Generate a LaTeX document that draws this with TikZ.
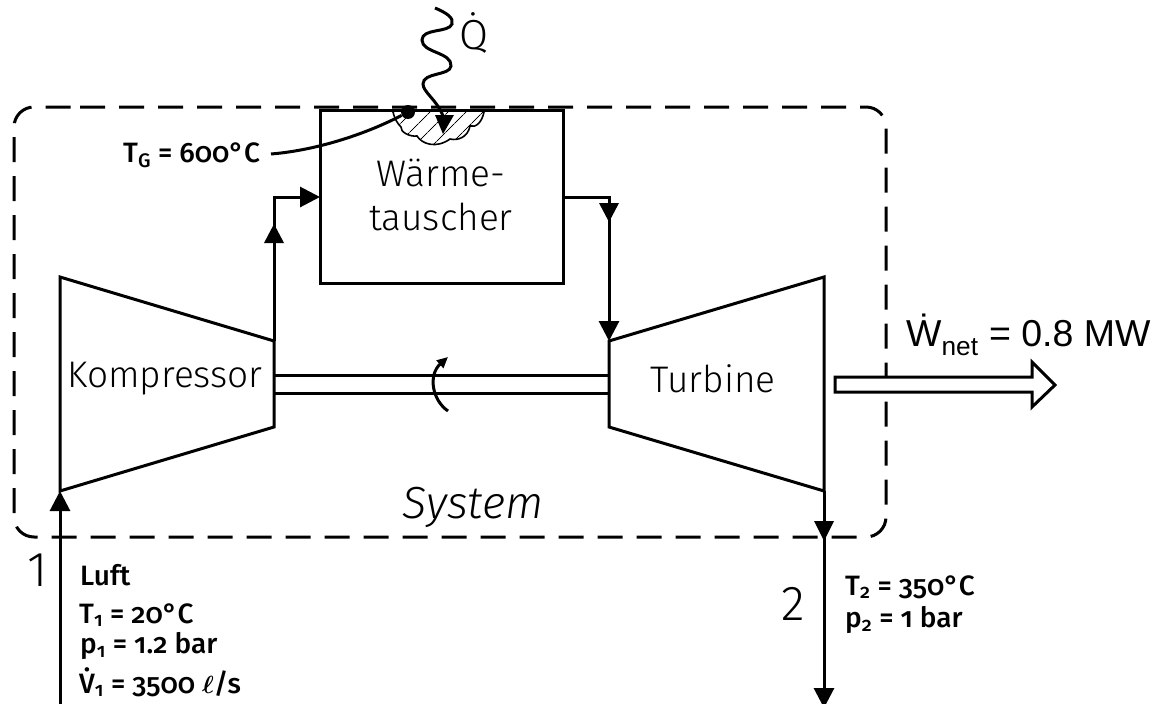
\documentclass[tikz,border=0pt]{standalone}
\usepackage{fontspec}
\usepackage{amsmath,amssymb}
\usetikzlibrary{arrows.meta,calc,patterns.meta,positioning}
\setmainfont{Fira Sans Light}
\newfontfamily\datafont[Numbers=OldStyle]{Fira Sans Medium}
\newfontfamily\arialfont{Liberation Sans}
\tikzset{
  line/.style={line width=3pt,line cap=butt},
  flow/.style={line,-{Triangle[width=20pt,length=20pt]}},
  bigtext/.style={font=\fontsize{37}{44}\selectfont,inner sep=0pt},
  numtext/.style={font=\fontsize{49}{50}\selectfont,inner sep=0pt},
  datatext/.style={font=\datafont\fontsize{28}{30}\selectfont,anchor=west,inner sep=0pt},
}
\begin{document}
\begin{tikzpicture}[x=1pt,y=-1pt]
    \useasboundingbox (0,0) rectangle (1160,704);
    % system boundary
    \draw[line,dash pattern=on 25pt off 14pt,rounded corners=20pt] (60,107) -- (886,107) -- (886,537) -- (14,537) -- (14,107) -- cycle;
    % machines
    \coordinate (c1) at (60,277);
    \coordinate (c2) at (274,341);
    \coordinate (c3) at (274,427);
    \coordinate (c4) at (60,491);
    \coordinate (t1) at (609,341);
    \coordinate (t2) at (824,277);
    \coordinate (t3) at (824,491);
    \coordinate (t4) at (609,427);
    \draw[line,fill=white] (c1) -- (c2) -- (c3) -- (c4) -- cycle;
    \draw[line,fill=white] (t1) -- (t2) -- (t3) -- (t4) -- cycle;
    \draw[line] (c2 |- 0,375) -- (t1 |- 0,375);
    \draw[line] (c2 |- 0,393) -- (t1 |- 0,393);
    \draw[line] (320,110) rectangle (563,283);
    \coordinate (hxin) at (320,197);
    \coordinate (hxout) at (563,197);
    \coordinate (in) at (60,704);
    \coordinate (out) at (824,708);
    % stream lines
    \draw[flow] (c2) -- (274,197) -- (hxin);
    \draw[flow] (hxout) -- (609,197) -- (t1);
    \draw[flow] (in) -- (c4);
    \draw[flow] (t3) -- (out);
    \fill (264,243) -- (284,243) -- (274,224) -- cycle;
    \fill (599,203) -- (619,203) -- (609,222) -- cycle;
    \fill (814,521) -- (834,521) -- (824,541) -- cycle;
    % heat input
    \draw[line width=1.6pt,pattern={Lines[angle=45,distance=13pt,line width=1pt]}] (393,112) .. controls (395,120) and (398,124) .. (401,127) .. controls (400,132) and (410,137) .. (417,136) .. controls (422,144) and (436,149) .. (450,139) .. controls (458,141) and (468,137) .. (470,126) .. controls (476,128) and (482,122) .. (484,112);
    \draw[line] (435,8) .. controls (447,13) and (454,18) .. (452,24) .. controls (449,33) and (422,28) .. (422,40) .. controls (422,53) and (452,52) .. (451,66) .. controls (450,76) and (423,72) .. (423,84) .. controls (423,92) and (437,100) .. (443,116);
    \fill (435,115) -- (454,115) -- (443,134) -- cycle;
    \node[circle,fill=black,inner sep=0pt,minimum size=14pt] (sensor) at (408,112) {};
    \coordinate (leaderend) at (271,154);
    \draw[line] (leaderend) .. controls (320,150) and (370,132) .. (sensor);
    % output
    \draw[line,fill=white] (835,377) -- (1032,377) -- (1032,362) -- (1055,385) -- (1032,407) -- (1032,392) -- (835,392) -- cycle;
    % rotation
    \draw[line,-{Triangle[width=10pt,length=11pt]}] (448,411) .. controls (432,400) and (428,375) .. (448,357);
    % texts
    \node[bigtext,align=center] (hx) at (441,195) {Wärme-\\tauscher};
    \node[bigtext] (komp) at (165,379) {Kompressor};
    \node[bigtext] (turb) at (713,379) {Turbine};
    \node[inner sep=0pt,font=\itshape\fontsize{45}{46}\selectfont] (sys) at (473,507) {System};
    \node[bigtext,font=\fontsize{42}{44}\selectfont] (qdot) at (474,33) {\.Q};
    \node[numtext] (one) at (38,570) {1};
    \node[numtext] (two) at (793,604) {2};
    \node[anchor=west,inner sep=0pt,font=\arialfont\fontsize{37.5}{40}\selectfont] (wnet) at (906,335) {\.W\textsubscript{net} = 0.8 MW};
    \node[datatext] (tg) at (123,155) {T\textsubscript{G} = 600°C};
    \node[datatext] (luft) at (80,575) {Luft};
    \node[datatext] (t1txt) at (79,615) {T\textsubscript{1} = 20°C};
    \node[datatext] (p1txt) at (80,646) {p\textsubscript{1} = 1.2 bar};
    \node[datatext] (v1txt) at (79,682) {\.V\textsubscript{1} = 3500 $\boldsymbol{\ell}$/s};
    \node[datatext] (t2txt) at (845,587) {T\textsubscript{2} = 350°C};
    \node[datatext] (p2txt) at (845,620) {p\textsubscript{2} = 1 bar};
\end{tikzpicture}
\end{document}
